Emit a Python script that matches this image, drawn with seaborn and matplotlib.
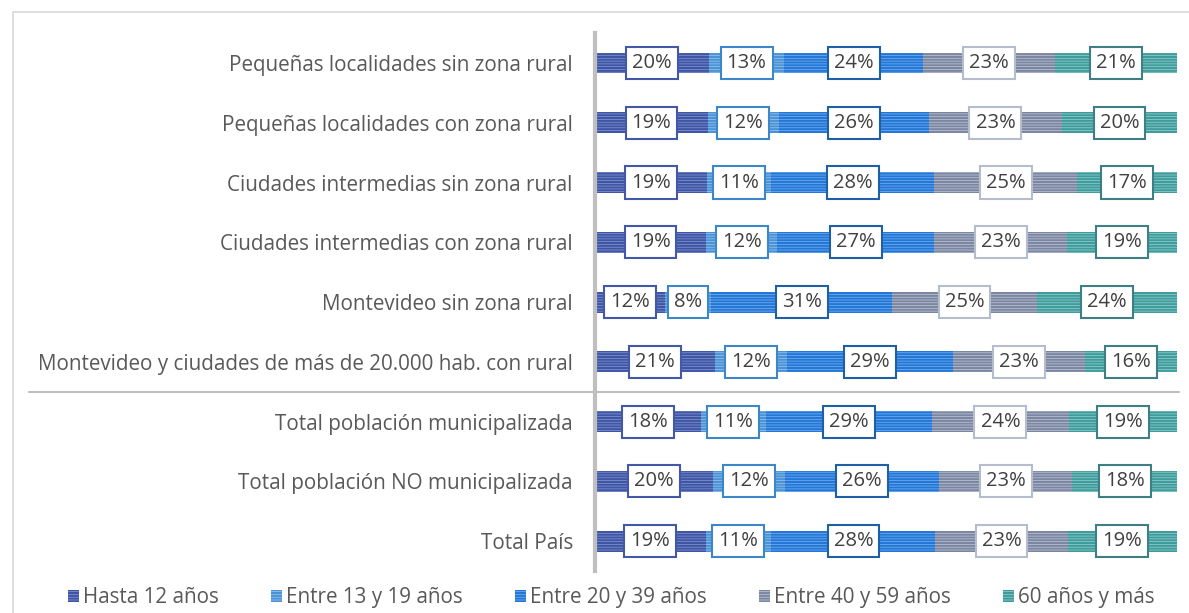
import matplotlib
matplotlib.use("Agg")
import matplotlib.pyplot as plt
import seaborn as sns
import numpy as np
import pandas as pd
from matplotlib.patches import Patch
from matplotlib.lines import Line2D

categorias = [
    "Pequeñas localidades sin zona rural",
    "Pequeñas localidades con zona rural",
    "Ciudades intermedias sin zona rural",
    "Ciudades intermedias con zona rural",
    "Montevideo sin zona rural",
    "Montevideo y ciudades de más de 20.000 hab. con rural",
    "Total población municipalizada",
    "Total población NO municipalizada",
    "Total País",
]
series = ["Hasta 12 años", "Entre 13 y 19 años", "Entre 20 y 39 años",
          "Entre 40 y 59 años", "60 años y más"]

hasta_12 = [19.6, 19.4, 19.2, 19.1, 12.0, 20.6, 18.2, 20.3, 19.0]
entre_13_19 = [12.9, 12.2, 11.1, 12.2, 8.0, 12.4, 11.1, 12.4, 11.3]
entre_20_39 = [23.9, 25.8, 28.0, 27.0, 31.0, 28.6, 28.6, 26.4, 28.2]
entre_40_59 = [22.6, 22.8, 24.6, 22.8, 25.0, 22.6, 23.5, 22.9, 22.7]
mas_60 = [21.0, 19.8, 17.1, 18.9, 24.0, 15.8, 18.6, 18.0, 18.8]

valores = [hasta_12, entre_13_19, entre_20_39, entre_40_59, mas_60]

cara = ["#8a9ad2", "#9ccaee", "#7ab4f2", "#c3c9d7", "#9ad2d2"]
rayas = ["#3f55a5", "#4b92d6", "#2477d6", "#7b86a2", "#3f9c9c"]
borde = ["#4259a8", "#3d87c8", "#1f5fa6", "#b4bccd", "#3d7f84"]

sns.set_theme(style="white")
plt.rcParams["font.family"] = ["Open Sans", "DejaVu Sans"]
plt.rcParams["hatch.linewidth"] = 1.5

df = pd.DataFrame({"categoria": categorias})
for s, v in zip(series, valores):
    df[s] = v
acum = df[series].cumsum(axis=1)

fig = plt.figure(figsize=(11.89, 6.13), dpi=100)
ax = fig.add_axes([0.5004, 0.0685, 0.4895, 0.8775])

# barras apiladas: acumulados de mayor a menor
for i in range(len(series) - 1, -1, -1):
    sns.barplot(x=acum[series[i]], y=df["categoria"], orient="h", ax=ax,
                color=cara[i], edgecolor=rayas[i], linewidth=0,
                hatch="------", width=0.35, saturation=1)

# etiquetas
for i, s in enumerate(series):
    izq = acum[s] - df[s]
    for j in range(len(categorias)):
        centro = izq[j] + df[s][j] / 2
        ax.text(centro, j, f"{round(df[s][j])}%", ha="center", va="center",
                fontsize=14.5, color="#404040",
                bbox=dict(boxstyle="square,pad=0.3", facecolor="white",
                          edgecolor=borde[i], linewidth=1.5))

ax.set_xlim(0, 100)
ax.set_ylim(8.5, -0.5)
ax.set_xlabel("")
ax.set_ylabel("")
ax.set_xticks([])
ax.tick_params(axis="y", length=0, labelsize=14.9, labelcolor="#595959", pad=16)
for lado in ["top", "right", "bottom"]:
    ax.spines[lado].set_visible(False)
ax.spines["left"].set_color("#bfbfbf")
ax.spines["left"].set_linewidth(3)

# línea separadora
ax.plot([-97.3, 100.3], [5.5, 5.5], color="#bfbfbf", linewidth=1.5,
        clip_on=False)

# marco del gráfico
fig.add_artist(Line2D([0.011, 0.011], [0, 0.9804], color="#d9d9d9", linewidth=1.2))
fig.add_artist(Line2D([0.011, 1.0], [0.9804, 0.9804], color="#d9d9d9", linewidth=1.2))

manijas = [Patch(facecolor=cara[i], edgecolor=rayas[i], linewidth=0,
                 hatch="------", label=series[i]) for i in range(len(series))]
leg = fig.legend(handles=manijas, loc="center", ncol=5, frameon=False,
                 bbox_to_anchor=(0.514, 0.0245), fontsize=14.9,
                 handlelength=0.55, handleheight=0.55, handletextpad=0.2,
                 columnspacing=2.5)
for t in leg.get_texts():
    t.set_color("#595959")

fig.savefig("out.png", dpi=100)
